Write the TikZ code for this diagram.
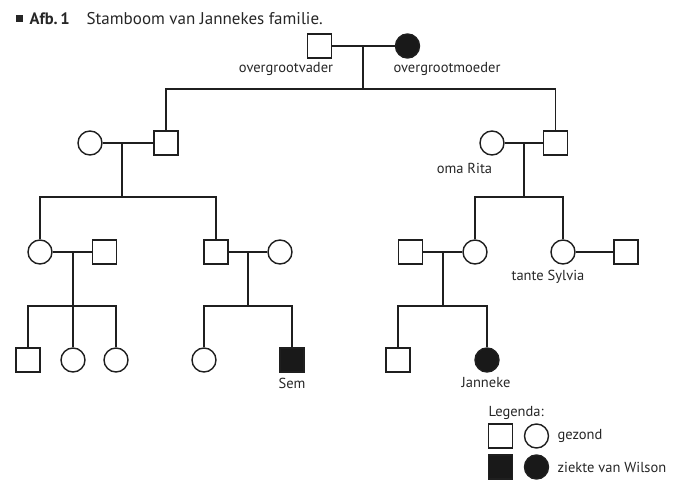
\documentclass[tikz,border=0pt]{standalone}
\usepackage{fontspec}
\setmainfont{PT Sans}
\begin{document}
\begin{tikzpicture}[x=1pt,y=-1pt,
  line width=1.4pt, draw=black!88,
  sq/.style={draw, rectangle, minimum size=24pt, inner sep=0pt, fill=white},
  ci/.style={draw, circle, minimum size=24pt, inner sep=0pt, fill=white},
  aff/.style={fill=black!90},
  lab/.style={font=\fontsize{14.5}{16}\selectfont, text=black!85, inner sep=0pt},
  link/.style={line width=1.4pt, draw=black!88}]
\useasboundingbox (0,0) rectangle (681,489);
% title
\node[fill=black!85, minimum size=7.5pt, inner sep=0pt] (bul) at (19.5,18.5) {};
\node[lab, anchor=base west, font=\fontsize{16.5}{18}\selectfont\bfseries] (afb) at (29,24.5) {Afb.\,1};
\node[lab, anchor=base west, font=\fontsize{17}{19}\selectfont] (tit) at (86,24.5) {Stamboom van Jannekes familie.};
% generation 1
\node[sq] (v1) at (319.5,46) {};
\node[ci, aff] (m1) at (407.5,46) {};
\node[lab] (lv1) at (286,69) {overgrootvader};
\node[lab] (lm1) at (447,69) {overgrootmoeder};
\coordinate (j1) at (363,46);
\coordinate (d1) at (363,89);
% generation 2
\node[ci] (c2a) at (90,143) {};
\node[sq] (s2a) at (166,143) {};
\node[ci] (c2b) at (492,143) {};
\node[sq] (s2b) at (555.5,143) {};
\node[lab] (lrita) at (464.5,168) {oma Rita};
\coordinate (j2a) at (122,143);
\coordinate (d2a) at (122,197);
\coordinate (j2b) at (524,143);
\coordinate (d2b) at (524,197);
% generation 3
\node[ci] (c3a) at (40,252) {};
\node[sq] (s3a) at (104.5,252) {};
\node[sq] (s3b) at (216,252) {};
\node[ci] (c3b) at (280,252) {};
\node[sq] (s3c) at (410.5,252) {};
\node[ci] (c3c) at (475,252) {};
\node[ci] (c3d) at (563,252) {};
\node[sq] (s3d) at (626,252) {};
\node[lab] (lsyl) at (548,277) {tante Sylvia};
\coordinate (j3a) at (73,252);
\coordinate (d3a) at (73,306);
\coordinate (j3b) at (248,252);
\coordinate (d3b) at (248,306);
\coordinate (j3c) at (443,252);
\coordinate (d3c) at (443,306);
% generation 4
\node[sq] (s4a) at (28,360) {};
\node[ci] (c4b) at (73,360) {};
\node[ci] (c4c) at (116,360) {};
\node[ci] (c4d) at (204,360) {};
\node[sq, aff] (s4e) at (292,360) {};
\node[sq] (s4f) at (398,360) {};
\node[ci, aff] (c4g) at (487,360) {};
\node[lab] (lsem) at (292,383) {Sem};
\node[lab] (ljan) at (486,383) {Janneke};
% connectors
\draw[link] (v1) -- (m1);
\draw[link] (j1) -- (d1);
\draw[link] (s2a) |- (d1) -| (s2b);
\draw[link] (c2a) -- (s2a);
\draw[link] (j2a) -- (d2a);
\draw[link] (c3a) |- (d2a) -| (s3b);
\draw[link] (c2b) -- (s2b);
\draw[link] (j2b) -- (d2b);
\draw[link] (c3c) |- (d2b) -| (c3d);
\draw[link] (c3a) -- (s3a);
\draw[link] (j3a) -- (d3a);
\draw[link] (s4a) |- (d3a) -| (c4c);
\draw[link] (d3a) -- (c4b);
\draw[link] (s3b) -- (c3b);
\draw[link] (j3b) -- (d3b);
\draw[link] (c4d) |- (d3b) -| (s4e);
\draw[link] (s3c) -- (c3c);
\draw[link] (j3c) -- (d3c);
\draw[link] (s4f) |- (d3c) -| (c4g);
\draw[link] (c3d) -- (s3d);
% legend
\node[lab, anchor=west] (leg) at (488,413) {Legenda:};
\node[sq] (ls1) at (500.5,436) {};
\node[ci] (lc1) at (536.5,436) {};
\node[sq, aff] (ls2) at (500.5,467) {};
\node[ci, aff] (lc2) at (536.5,467) {};
\node[lab, anchor=west] (lg1) at (557,436) {gezond};
\node[lab, anchor=west] (lg2) at (557,467) {ziekte van Wilson};
\end{tikzpicture}
\end{document}
